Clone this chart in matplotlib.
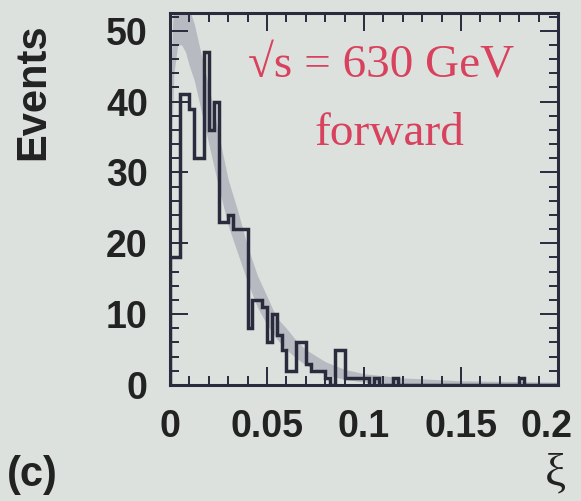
import numpy as np
import matplotlib.pyplot as plt
from matplotlib.ticker import MultipleLocator
from matplotlib.transforms import ScaledTranslation

# histogram of xi, bins of 0.0025 from 0 to 0.2
bin_width = 0.0025
counts = [18, 18, 41, 41, 39, 32, 32, 47, 36, 40,
          23, 23, 24, 22, 22, 22, 8, 12, 12, 11,
          6, 10, 7, 5, 2, 2, 6, 6, 3, 2,
          2, 2, 1, 0, 5, 5, 1, 1, 1, 1,
          1, 0, 1, 0, 0, 0, 1, 0, 0, 0,
          0, 0, 0, 0, 0, 0, 0, 0, 0, 0,
          0, 0, 0, 0, 0, 0, 0, 0, 0, 0,
          0, 0, 1, 0, 0, 0, 0, 0, 0, 0]
edges = np.arange(len(counts) + 1) * bin_width

# Monte Carlo prediction band
band_xi = [0.0005, 0.002, 0.004, 0.006, 0.008, 0.010, 0.0125, 0.015, 0.0175,
           0.020, 0.0225, 0.025, 0.030, 0.035, 0.040, 0.045, 0.050, 0.055,
           0.060, 0.065, 0.070, 0.080, 0.090, 0.100, 0.120, 0.150, 0.200]
band_lo = [30, 44, 48, 48, 47, 45, 43, 40, 37,
           34, 31, 28, 22.5, 18.5, 14.5, 11, 8.5, 6.5,
           5, 3.8, 2.8, 1.5, 0.8, 0.4, 0.1, 0, 0]
band_hi = [44, 56, 58, 57, 55, 53, 51, 48, 45,
           42, 39, 35.5, 29, 24.5, 19.5, 15.5, 12.5, 9.5,
           8, 6.3, 5, 3.3, 2.2, 1.6, 1.0, 0.6, 0.4]

x_ticks = [0, 0.05, 0.1, 0.15, 0.2]
x_ticklabels = ['0', '0.05', '0.1', '0.15', '0.2']
y_ticks = [0, 10, 20, 30, 40, 50]

bg = '#dde1dd'
ink = '#2b2b3e'
red = '#d8425e'

fig = plt.figure(figsize=(5.81, 5.01), dpi=100, facecolor=bg)
ax = fig.add_axes([170 / 581, 1 - 385 / 501, 388 / 581, 372 / 501])
ax.set_facecolor(bg)

ax.fill_between(band_xi, band_lo, band_hi, color='#9a9aab', alpha=0.55,
                linewidth=0)
ax.stairs(counts, edges, color=ink, linewidth=2.5)

ax.set_xlim(0, 0.2)
ax.set_ylim(0, 52.5)
ax.set_xticks(x_ticks)
ax.set_xticklabels(x_ticklabels)
ax.set_yticks(y_ticks)
ax.xaxis.set_minor_locator(MultipleLocator(0.01))
ax.yaxis.set_minor_locator(MultipleLocator(2))

for s in ax.spines.values():
    s.set_linewidth(2.2)
    s.set_color(ink)

ax.tick_params(which='both', direction='in', top=True, right=True,
               color=ink, width=1.4)
ax.tick_params(which='major', length=13)
ax.tick_params(which='minor', length=6.5)
ax.tick_params(axis='x', pad=17)
ax.tick_params(axis='y', pad=16)
for lab in ax.get_xticklabels() + ax.get_yticklabels():
    lab.set_fontfamily('Liberation Sans')
    lab.set_fontweight('bold')
    lab.set_color('#222222')
    lab.set_fontsize(27)
# pull the last x label inside the figure edge
last = ax.get_xticklabels()[-1]
last.set_transform(last.get_transform()
                   + ScaledTranslation(-8 / 72, 0, fig.dpi_scale_trans))

ax.text(0.545, 0.86, '\u221as = 630 GeV', transform=ax.transAxes,
        ha='center', va='center', fontsize=34, color=red,
        family=['Liberation Serif', 'DejaVu Serif'])
ax.text(0.565, 0.675, 'forward', transform=ax.transAxes,
        ha='center', va='center', fontsize=34, color=red,
        family='Liberation Serif')

fig.text(33 / 581, 1 - 92 / 501, 'Events', rotation=90, ha='center',
         va='center', fontsize=30, fontweight='bold', color='#222222',
         family='Liberation Sans')
fig.text(32 / 581, 1 - 475 / 501, '(c)', ha='center', va='center',
         fontsize=30, fontweight='bold', color='#222222',
         family='Liberation Sans')
fig.text(555 / 581, 1 - 474 / 501, '\u03be', ha='center', va='center',
         fontsize=34, color='#222222', family=['Liberation Serif', 'DejaVu Serif'])

plt.savefig('out.png', dpi=100, facecolor=bg)
